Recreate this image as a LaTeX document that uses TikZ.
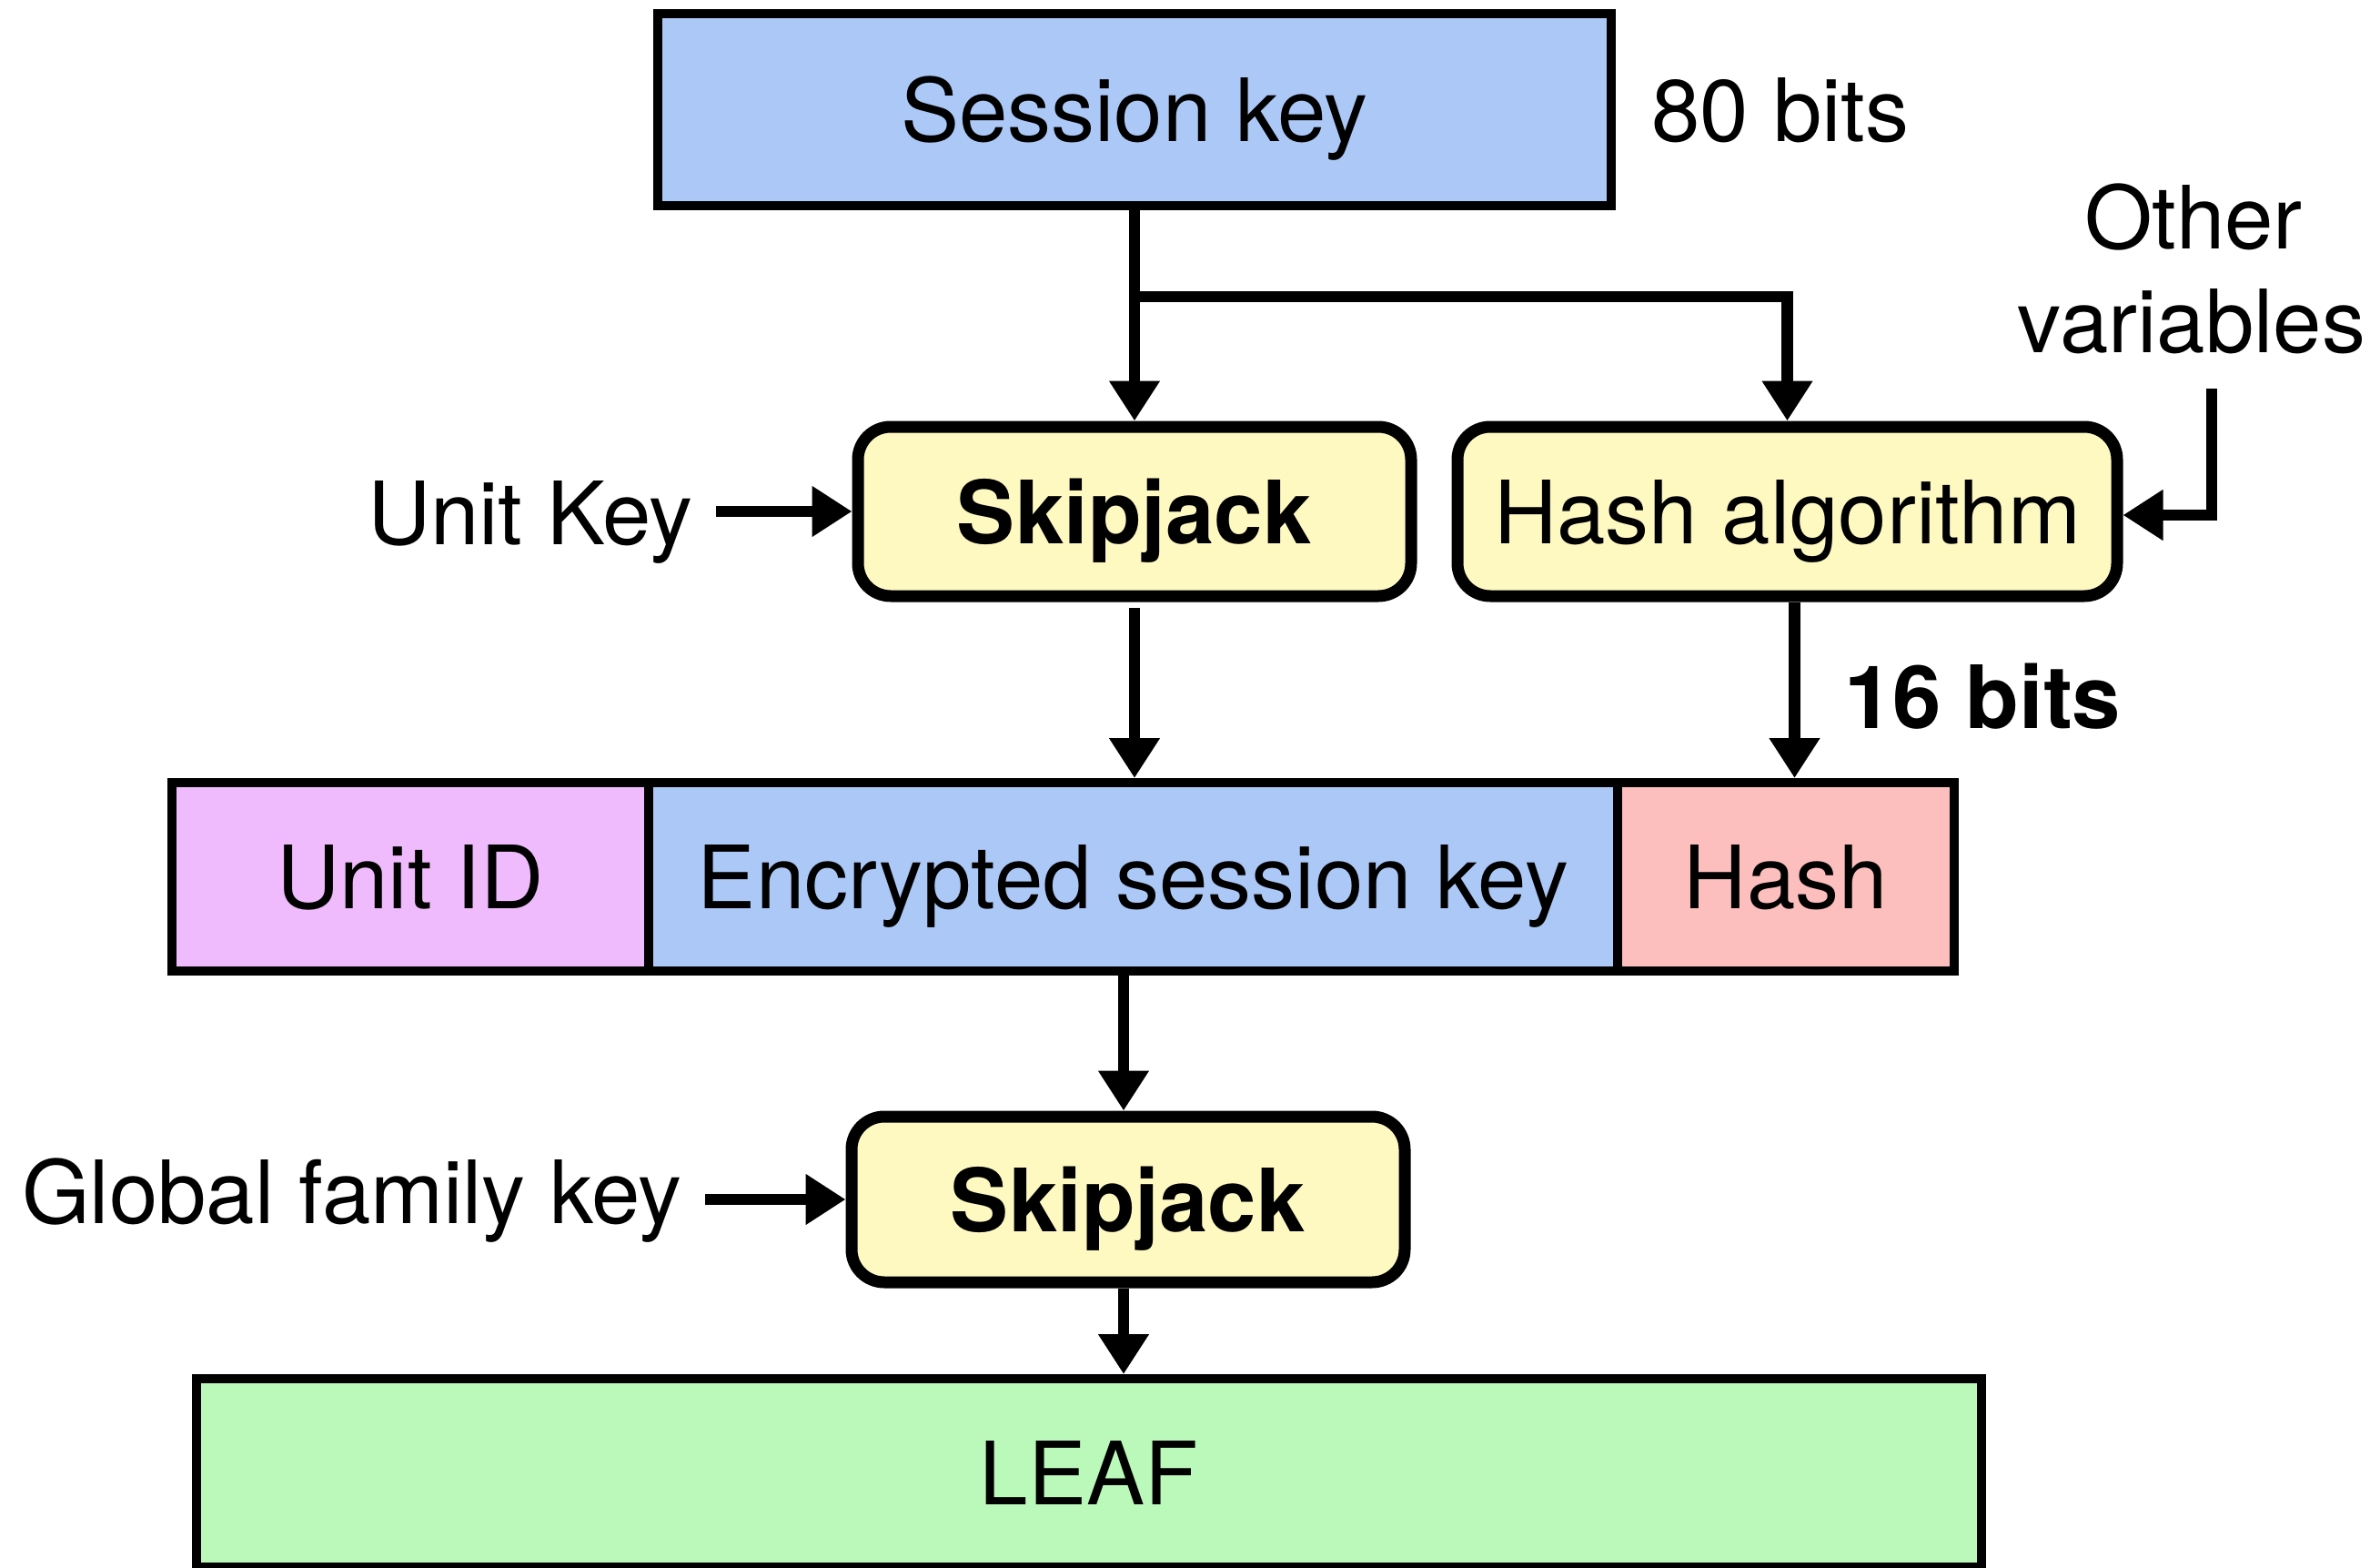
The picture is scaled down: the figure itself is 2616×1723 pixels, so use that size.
\documentclass[tikz,border=0pt]{standalone}
\usepackage{fontspec}
\setmainfont{TeX Gyre Heros}
\usetikzlibrary{arrows.meta}
\definecolor{keyblue}{RGB}{172,200,247}
\definecolor{boxyellow}{RGB}{254,248,193}
\definecolor{idpink}{RGB}{240,187,252}
\definecolor{hashpink}{RGB}{253,191,190}
\definecolor{leafgreen}{RGB}{187,249,187}
\begin{document}
\begin{tikzpicture}[x=1pt,y=-1pt,
  every node/.style={font=\fontsize{96}{115}\selectfont},
  field/.style={draw, line width=10pt, text height=70pt, text depth=0pt, inner sep=0pt},
  cipher/.style={draw, line width=13pt, rounded corners=36pt, fill=boxyellow,
                 text height=70pt, text depth=0pt, inner sep=0pt},
  plain/.style={inner sep=0pt, anchor=base},
  flow/.style={line width=12.5pt, line join=miter, -{Triangle[length=44pt,width=53pt]}},
]
\useasboundingbox (0,0) rectangle (2616,1723);

% session key and its size
\node[field, fill=keyblue, minimum width=1048pt, minimum height=211pt] (sess) at (1247,120.5) {Session key};
\node[plain] (bits80) at (1957,156) {80 bits};
\coordinate (split) at (1247,326);

% Skipjack and hash stage
\node[cipher, minimum width=608pt, minimum height=186pt] (skip1) at (1247,562) {\bfseries Skipjack};
\node[cipher, minimum width=725pt, minimum height=186pt] (hashalg) at (1964.5,562) {Hash algorithm};
\node[plain] (other1) at (2411,273) {Other};
\node[plain] (other2) at (2409,387) {variables};
\coordinate (othertail) at (2431,427);
\node[plain, anchor=base east] (unitkey) at (762,598) {Unit Key};
\node[plain, anchor=base west] (bits16) at (2027,800) {\bfseries 16 bits};

% LEAF fields
\node[field, fill=idpink, minimum width=524pt, minimum height=207pt] (unitid) at (451,963.5) {Unit ID};
\node[field, fill=keyblue, minimum width=1065pt, minimum height=207pt] (enc) at (1245.5,963.5) {Encrypted session key};
\node[field, fill=hashpink, minimum width=370pt, minimum height=207pt] (hash) at (1963,963.5) {Hash};

% second Skipjack and the resulting LEAF
\node[cipher, minimum width=608pt, minimum height=182pt] (skip2) at (1240,1318) {\bfseries Skipjack};
\node[plain, anchor=base east] (gfk) at (750,1344) {Global family key};
\node[field, fill=leafgreen, minimum width=1962pt, minimum height=207pt] (leaf) at (1197,1618.5) {LEAF};

% connectors
\draw[flow] (sess) -- (skip1);
\draw[flow] (split) -| (hashalg.north);
\draw[flow] (othertail) |- ([yshift=-4pt]hashalg.east);
\draw[flow] ([xshift=25pt]unitkey.east |- skip1.west) -- (skip1.west);
\draw[flow] ([yshift=-6pt]skip1.south) -- (skip1.south |- enc.north);
\draw[flow] ([xshift=8pt]hashalg.south) -- ([xshift=8pt]hashalg.south |- hash.north);
\draw[flow] ([xshift=-5pt]skip2.north |- enc.south) -- ([xshift=-5pt]skip2.north);
\draw[flow] ([xshift=25pt]gfk.east |- skip2.west) -- (skip2.west);
\draw[flow] ([xshift=-5pt]skip2.south) -- ([xshift=-5pt]skip2.south |- leaf.north);
\end{tikzpicture}
\end{document}
